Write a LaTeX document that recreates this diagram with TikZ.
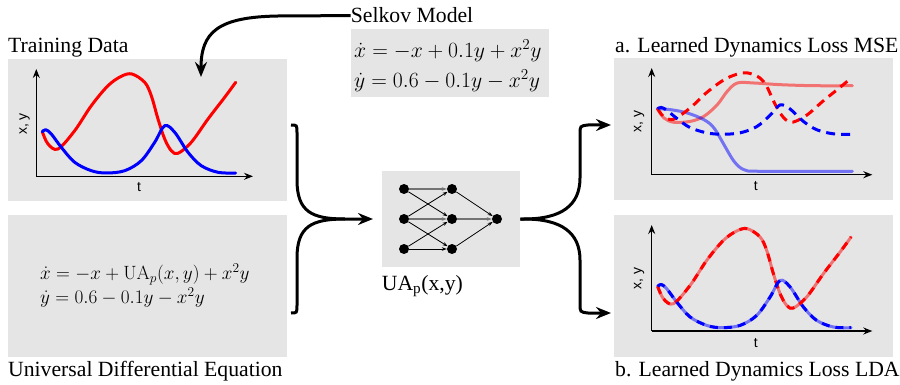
\RequirePackage{fix-cm}
\documentclass[tikz,border=0pt]{standalone}
\usepackage[no-math]{fontspec}
\setmainfont{Liberation Serif}
\newfontfamily\axfont{Liberation Sans}
\usetikzlibrary{arrows.meta}
\definecolor{panelgray}{RGB}{229,229,229}
\newcommand\redpts{plot[smooth,tension=0.55] coordinates{(6,-44.6) (11.7,-32.3) (21.7,-27.3) (38.4,-45.6) (55,-70.6) (71.7,-90.6) (85,-100) (95.7,-102.3) (108.4,-94) (115,-80.6) (121.7,-57.3) (128.4,-37.3) (135,-25.6) (141.7,-23) (155,-34) (171.7,-57.3) (188.4,-79) (199.4,-94)}}
\newcommand\bluepts{plot[smooth,tension=0.55] coordinates{(6,-44.6) (9.4,-46.6) (15,-42.3) (25,-29) (38.4,-14) (55,-5.6) (70,-3.3) (88.4,-5.6) (105,-15.6) (118.4,-34) (128.4,-50.6) (138.4,-44) (151.7,-24) (165,-10.6) (181.7,-4) (199.4,-3.3)}}
\newcommand\lredpts{plot[smooth,tension=0.55] coordinates{(5.6,-66) (12.3,-56.7) (22.3,-52.4) (39,-53.4) (52.3,-58.4) (65.6,-70) (75.6,-83.4) (85.6,-91.7) (102.3,-91.7) (129,-90) (162.3,-89) (200.6,-89)}}
\newcommand\lbluepts{plot[smooth,tension=0.55] coordinates{(5.6,-66) (19,-65) (35.6,-61.7) (52.3,-55) (62.3,-46.7) (72.3,-30) (82.3,-13.4) (92.3,-5) (109,-3.4) (200.6,-3.4)}}
\begin{document}
\begin{tikzpicture}[x=1pt,y=-1pt,
  panel/.style={fill=panelgray,draw=none,inner sep=0pt,anchor=north west},
  lbl/.style={font=\fontsize{21.7}{26}\selectfont,inner sep=0pt},
  eqn/.style={font=\fontsize{21.7}{30}\selectfont,inner sep=0pt,align=left,anchor=west},
  axis/.style={line width=1.5pt,-{Stealth[length=9pt,width=7pt,inset=3pt]}},
  axlbl/.style={font=\axfont\fontsize{14}{16}\selectfont,inner sep=0pt},
  curve/.style={line width=3pt,line cap=round,line join=round},
  bigarrow/.style={line width=3pt,-{Stealth[length=15pt,width=12pt,inset=5pt]}},
  bigline/.style={line width=3pt},
  neuron/.style={circle,fill=black,minimum size=10pt,inner sep=0pt},
  nnedge/.style={line width=0.8pt,-{Stealth[length=5pt,width=3.5pt]}},
  nngray/.style={line width=1.6pt,draw=black!55,-{Stealth[length=5pt,width=3.5pt]}},
  dsh/.style={dash pattern=on 9pt off 6pt}]
\useasboundingbox (0,0) rectangle (900,385);
% panels
\node[panel,minimum width=279pt,minimum height=142pt] (train) at (8,59) {};
\node[panel,minimum width=279pt,minimum height=142pt] (ude) at (8,215) {};
\node[panel,minimum width=198pt,minimum height=68pt] (selkov) at (351,29) {};
\node[panel,minimum width=138pt,minimum height=96pt] (nn) at (382,171) {};
\node[panel,minimum width=279pt,minimum height=142pt] (mse) at (614,58) {};
\node[panel,minimum width=279pt,minimum height=142pt] (lda) at (614,215) {};
% labels
\node[lbl,anchor=base west] (trainlbl) at (8,53) {Training Data};
\node[lbl,anchor=base west] (udelbl) at (8,376) {Universal Differential Equation};
\node[lbl,anchor=base west] (selkovlbl) at (350.7,23) {Selkov Model};
\node[lbl,anchor=base west] (nnlbl) at (381.7,290) {UA\textsubscript{p}(x,y)};
\node[lbl,anchor=base west] (mselbl) at (615,53) {a. Learned Dynamics Loss MSE};
\node[lbl,anchor=base west] (ldalbl) at (615,376) {b. Learned Dynamics Loss LDA};
% equations
\node[eqn] (selkoveq) at (354,65.5) {$\dot x=-x+0.1y+x^2y$\\$\dot y=0.6-0.1y-x^2y$};
\node[eqn,font=\fontsize{19.2}{24}\selectfont] (udeeq) at (40,286) {$\dot x=-x+\mathrm{UA}_p(x,y)+x^2y$\\$\dot y=0.6-0.1y-x^2y$};
% training data plot
\coordinate (tro) at (36.3,176.3);
\coordinate (trx) at (253,176.3);
\coordinate (try) at (36.3,69);
\draw[axis] (tro) -- (trx);
\draw[axis] (tro) -- (try);
\node[axlbl] (trt) at (139,187.5) {t};
\node[axlbl,rotate=90] (trxy) at (24.7,124) {x, y};
\begin{scope}[shift={(tro)}]
\draw[curve,red] \redpts;
\draw[curve,blue] \bluepts;
\end{scope}
% MSE plot
\coordinate (ao) at (651.7,174.7);
\coordinate (ax) at (872.3,174.7);
\coordinate (ay) at (651.7,68);
\draw[axis] (ao) -- (ax);
\draw[axis] (ao) -- (ay);
\node[axlbl] (at) at (755.7,186.5) {t};
\node[axlbl,rotate=90] (axy) at (639,121.3) {x, y};
\begin{scope}[shift={(ao)}]
\draw[curve,red,opacity=0.5] \lredpts;
\draw[curve,blue,opacity=0.5] \lbluepts;
\begin{scope}[shift={(0,-38.4)},yscale=0.62]
\draw[curve,red,dsh,line cap=butt] \redpts;
\draw[curve,blue,dsh,line cap=butt] \bluepts;
\end{scope}
\end{scope}
% LDA plot
\coordinate (bo) at (651.7,331);
\coordinate (bx) at (872.3,331);
\coordinate (by) at (651.7,225);
\draw[axis] (bo) -- (bx);
\draw[axis] (bo) -- (by);
\node[axlbl] (bt) at (755.7,343.3) {t};
\node[axlbl,rotate=90] (bxy) at (639,278.3) {x, y};
\begin{scope}[shift={(bo)}]
\draw[curve,red,opacity=0.5] \redpts;
\draw[curve,blue,opacity=0.5] \bluepts;
\draw[curve,red,dash pattern=on 8pt off 6pt,line cap=butt] \redpts;
\draw[curve,blue,dash pattern=on 8pt off 6pt,line cap=butt] \bluepts;
\end{scope}
% neural net
\node[neuron] (n11) at (404,189) {};
\node[neuron] (n12) at (404,219) {};
\node[neuron] (n13) at (404,249) {};
\node[neuron] (n21) at (452,189) {};
\node[neuron] (n22) at (452,219) {};
\node[neuron] (n23) at (452,249) {};
\node[neuron] (n31) at (497,219) {};
\draw[nngray] (n11) -- (n21);
\draw[nngray] (n12) -- (n22);
\draw[nnedge] (n13) -- (n23);
\draw[nnedge] (n11) -- (n22);
\draw[nnedge] (n12) -- (n21);
\draw[nnedge] (n12) -- (n23);
\draw[nnedge] (n13) -- (n22);
\draw[nnedge] (n21) -- (n31);
\draw[nngray] (n22) -- (n31);
\draw[nnedge] (n23) -- (n31);
% connectors
\coordinate (selkovtip) at (201,77);
\draw[bigarrow] (selkovlbl.west) -- (278,16) .. controls (218,17) and (201,32) .. (selkovtip);
\coordinate (ltop) at (291,125);
\coordinate (lbot) at (291,313);
\coordinate (nntip) at (373,219);
\draw[bigline] (lbot) .. controls (297,313) .. (297,305) -- (297,258) .. controls (297,226) and (312,219) .. (345,219);
\draw[bigarrow] (ltop) .. controls (297,125) .. (297,133) -- (297,180) .. controls (297,212) and (312,219) .. (345,219) -- (nntip);
\coordinate (rtop) at (611,125);
\coordinate (rbot) at (611,313);
\draw[bigarrow] (nn.east) -- (524,219) .. controls (562,219) and (580,205) .. (580,178) -- (580,134) .. controls (580,126) .. (588,125) -- (rtop);
\draw[bigarrow] (nn.east) -- (524,219) .. controls (562,219) and (580,233) .. (580,260) -- (580,304) .. controls (580,312) .. (588,313) -- (rbot);
\end{tikzpicture}
\end{document}
